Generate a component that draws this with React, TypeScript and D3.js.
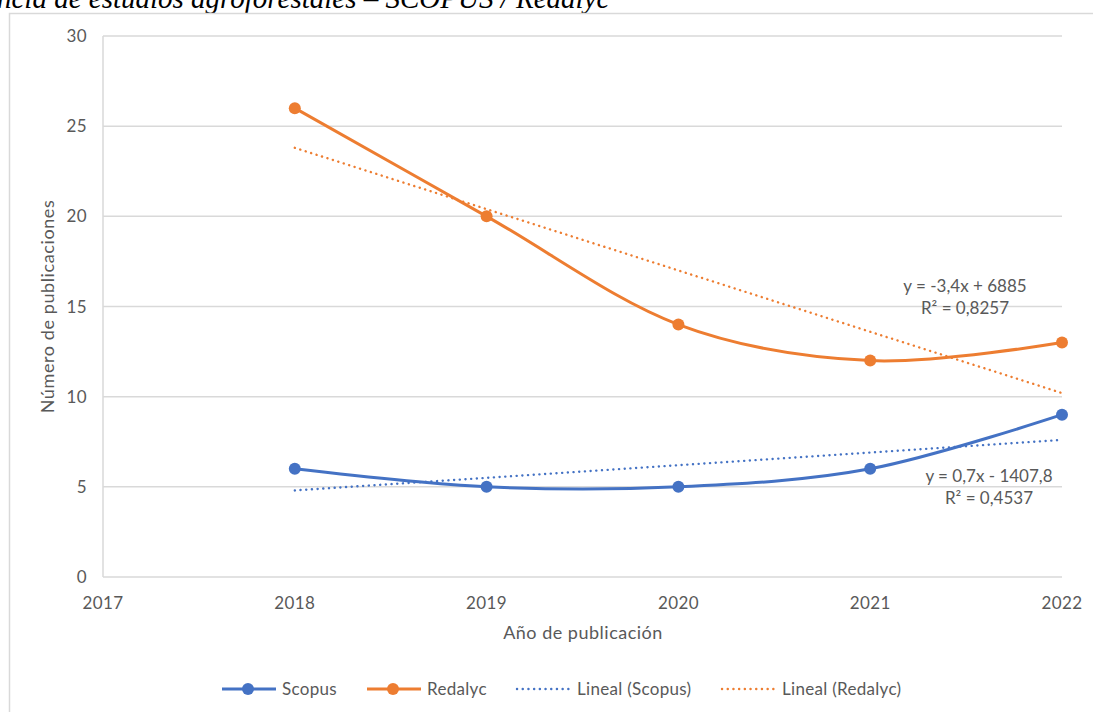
import React, { useEffect, useRef } from 'react';
import * as d3 from 'd3';

// publication counts per year
const years = [2018, 2019, 2020, 2021, 2022];
const scopus = [6, 5, 5, 6, 9];
const redalyc = [26, 20, 14, 12, 13];

const xTicks = [2017, 2018, 2019, 2020, 2021, 2022];
const yTicks = [0, 5, 10, 15, 20, 25, 30];

const scopusTrendLabel = ['y = 0,7x - 1407,8', 'R² = 0,4537'];
const redalycTrendLabel = ['y = -3,4x + 6885', 'R² = 0,8257'];

const BLUE = '#4472C4';
const ORANGE = '#ED7D31';
const GRID = '#d9d9d9';
const TEXT = '#595959';
const FONT = 'Lato, "Open Sans", sans-serif';

// least squares fit, same as the spreadsheet's linear trendline
const linearFit = (xs: number[], ys: number[]) => {
  const mx = d3.mean(xs) as number;
  const my = d3.mean(ys) as number;
  const num = d3.sum(xs, (x, i) => (x - mx) * (ys[i] - my));
  const den = d3.sum(xs, x => (x - mx) * (x - mx));
  const slope = num / den;
  return (x: number) => my + slope * (x - mx);
};

const App = () => {
  const chartRef = useRef<SVGSVGElement>(null);

  useEffect(() => {
    if (chartRef.current) {
      drawChart();
    }
  }, []);

  const drawChart = () => {
    const svg = d3.select(chartRef.current);
    svg.selectAll('*').remove();

    const width = 1093;
    const height = 712;
    const plot = { left: 103, right: 1062, top: 36, bottom: 577 };

    // caption from the page, cut at the top
    svg.append('text')
      .attr('x', -3)
      .attr('y', 8)
      .text('ncia de estudios agroforestales – SCOPUS / Redalyc')
      .style('font-family', '"Liberation Serif", "Times New Roman", serif')
      .style('font-style', 'italic')
      .style('font-size', '29px')
      .attr('fill', '#000');

    // chart frame
    svg.append('rect')
      .attr('x', 9.5)
      .attr('y', 13.5)
      .attr('width', width + 20)
      .attr('height', height + 20)
      .attr('fill', 'none')
      .attr('stroke', GRID)
      .attr('stroke-width', 1.5);

    const x = d3.scaleLinear().domain([2017, 2022]).range([plot.left, plot.right]);
    const y = d3.scaleLinear().domain([0, 30]).range([plot.bottom, plot.top]);

    // gridlines
    svg.append('g')
      .selectAll('line')
      .data(yTicks)
      .enter()
      .append('line')
      .attr('x1', plot.left)
      .attr('x2', plot.right)
      .attr('y1', d => y(d))
      .attr('y2', d => y(d))
      .attr('stroke', GRID)
      .attr('stroke-width', 1.5);

    // y axis line
    svg.append('line')
      .attr('x1', plot.left)
      .attr('x2', plot.left)
      .attr('y1', plot.top)
      .attr('y2', plot.bottom)
      .attr('stroke', GRID)
      .attr('stroke-width', 1.5);

    // tick labels
    svg.append('g')
      .selectAll('text')
      .data(yTicks)
      .enter()
      .append('text')
      .attr('x', plot.left - 16)
      .attr('y', d => y(d))
      .attr('dy', '0.36em')
      .attr('text-anchor', 'end')
      .text(d => d)
      .style('font-family', FONT)
      .style('font-size', '17px')
      .style('letter-spacing', '0.4px')
      .attr('fill', TEXT);

    svg.append('g')
      .selectAll('text')
      .data(xTicks)
      .enter()
      .append('text')
      .attr('x', d => x(d))
      .attr('y', plot.bottom + 26)
      .attr('dy', '0.36em')
      .attr('text-anchor', 'middle')
      .text(d => d)
      .style('font-family', FONT)
      .style('font-size', '17px')
      .style('letter-spacing', '0.4px')
      .attr('fill', TEXT);

    // axis titles
    svg.append('text')
      .attr('x', 583)
      .attr('y', 633)
      .attr('dy', '0.36em')
      .attr('text-anchor', 'middle')
      .text('Año de publicación')
      .style('font-family', FONT)
      .style('font-size', '18px')
      .style('letter-spacing', '0.5px')
      .attr('fill', TEXT);

    svg.append('text')
      .attr('transform', `translate(48,${(plot.top + plot.bottom) / 2}) rotate(-90)`)
      .attr('dy', '0.36em')
      .attr('text-anchor', 'middle')
      .text('Número de publicaciones')
      .style('font-family', FONT)
      .style('font-size', '18px')
      .style('letter-spacing', '0.6px')
      .attr('fill', TEXT);

    const series = [
      { name: 'Scopus', values: scopus, color: BLUE, label: scopusTrendLabel, labelX: 989, labelY: 476 },
      { name: 'Redalyc', values: redalyc, color: ORANGE, label: redalycTrendLabel, labelX: 965, labelY: 286 },
    ];

    const line = d3.line<[number, number]>()
      .x(d => x(d[0]))
      .y(d => y(d[1]))
      .curve(d3.curveCatmullRom.alpha(0));

    series.forEach(s => {
      // dotted trendline
      const fit = linearFit(years, s.values);
      const first = years[0];
      const last = years[years.length - 1];
      svg.append('line')
        .attr('x1', x(first))
        .attr('y1', y(fit(first)))
        .attr('x2', x(last))
        .attr('y2', y(fit(last)))
        .attr('stroke', s.color)
        .attr('stroke-width', 2.4)
        .attr('stroke-linecap', 'round')
        .attr('stroke-dasharray', '0.1 5.6');
    });

    series.forEach(s => {
      const pts: [number, number][] = years.map((yr, i) => [yr, s.values[i]]);
      svg.append('path')
        .datum(pts)
        .attr('d', line)
        .attr('fill', 'none')
        .attr('stroke', s.color)
        .attr('stroke-width', 3);

      svg.append('g')
        .selectAll('circle')
        .data(pts)
        .enter()
        .append('circle')
        .attr('cx', d => x(d[0]))
        .attr('cy', d => y(d[1]))
        .attr('r', 6)
        .attr('fill', s.color);

      s.label.forEach((t, i) => {
        svg.append('text')
          .attr('x', s.labelX)
          .attr('y', s.labelY + i * 22)
          .attr('dy', '0.36em')
          .attr('text-anchor', 'middle')
          .text(t)
          .style('font-family', FONT)
          .style('font-size', '17px')
          .attr('fill', TEXT);
      });
    });

    // legend
    const legend = [
      { name: 'Scopus', color: BLUE, trend: false, x0: 222 },
      { name: 'Redalyc', color: ORANGE, trend: false, x0: 367 },
      { name: 'Lineal (Scopus)', color: BLUE, trend: true, x0: 517 },
      { name: 'Lineal (Redalyc)', color: ORANGE, trend: true, x0: 722 },
    ];
    const ly = 689;
    const lg = svg.append('g');
    legend.forEach(l => {
      if (l.trend) {
        lg.append('line')
          .attr('x1', l.x0).attr('x2', l.x0 + 54)
          .attr('y1', ly).attr('y2', ly)
          .attr('stroke', l.color)
          .attr('stroke-width', 2.4)
          .attr('stroke-linecap', 'round')
          .attr('stroke-dasharray', '0.1 5.6');
      } else {
        lg.append('line')
          .attr('x1', l.x0).attr('x2', l.x0 + 54)
          .attr('y1', ly).attr('y2', ly)
          .attr('stroke', l.color)
          .attr('stroke-width', 3);
        lg.append('circle')
          .attr('cx', l.x0 + 26)
          .attr('cy', ly)
          .attr('r', 6)
          .attr('fill', l.color);
      }
      lg.append('text')
        .attr('x', l.x0 + 60)
        .attr('y', ly)
        .attr('dy', '0.36em')
        .text(l.name)
        .style('font-family', FONT)
        .style('font-size', '17px')
        .style('letter-spacing', '0.3px')
        .attr('fill', TEXT);
    });
  };

  return (
    <svg
      ref={chartRef}
      width={1093}
      height={712}
      style={{ position: 'absolute', left: 0, top: 0, background: '#fff' }}
    />
  );
};

export default App;
